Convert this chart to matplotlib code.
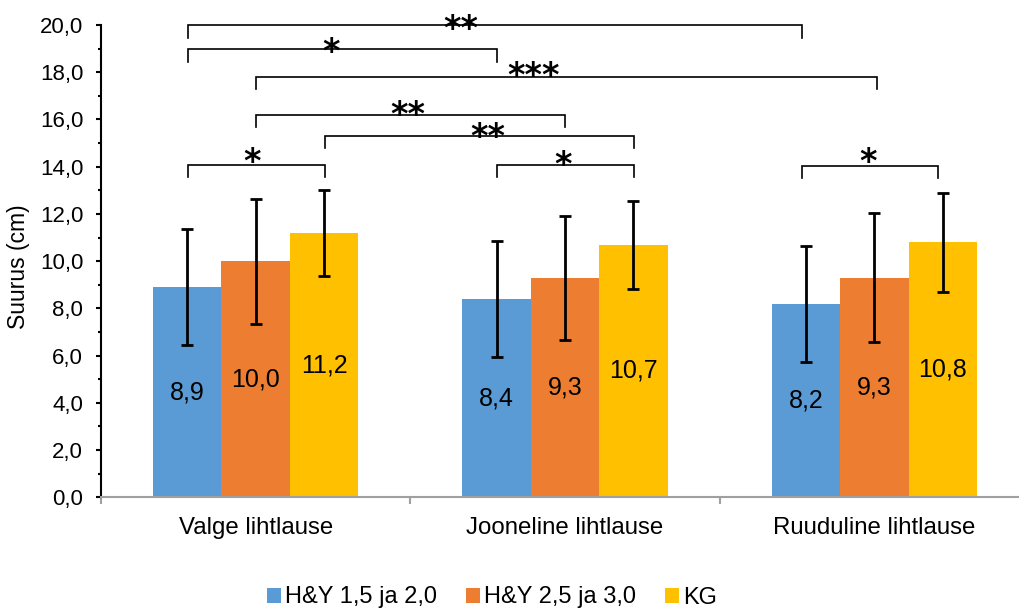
import matplotlib
matplotlib.use("Agg")
import matplotlib.pyplot as plt
from matplotlib.patches import Patch
from matplotlib.ticker import FuncFormatter, MultipleLocator, FixedLocator
import numpy as np

plt.rcParams['font.family'] = ['Liberation Sans', 'DejaVu Sans']

# ---- data ----
categories = ["Valge lihtlause", "Jooneline lihtlause", "Ruuduline lihtlause"]
series_names = ["H&Y 1,5 ja 2,0", "H&Y 2,5 ja 3,0", "KG"]
hy_low = [8.9, 8.4, 8.2]
hy_high = [10.0, 9.3, 9.3]
kg = [11.2, 10.7, 10.8]
hy_low_sd = [2.45, 2.45, 2.46]
hy_high_sd = [2.65, 2.62, 2.74]
kg_sd = [1.82, 1.86, 2.10]
colors = ["#5B9BD5", "#ED7D31", "#FFC000"]

# significance brackets: (x_left, x_right, y, label, label_x, label_y)
brackets = [
    (-0.219, 1.766, 20.00, "**", 0.664, 20.25),
    (-0.219, 0.779, 18.98, "*", 0.244, 19.27),
    (0.000, 2.008, 17.80, "***", 0.897, 18.25),
    (0.000, 1.000, 16.20, "**", 0.493, 16.58),
    (0.224, 1.223, 15.32, "**", 0.751, 15.65),
    (-0.219, 0.224, 14.08, "*", -0.012, 14.61),
    (0.779, 1.223, 14.08, "*", 0.994, 14.46),
    (1.766, 2.205, 14.05, "*", 1.980, 14.59),
]
leg_len = 0.53

W, H = 1019, 611
fig = plt.figure(figsize=(W / 100, H / 100), dpi=100)
ax = fig.add_axes([101 / W, (H - 497.3) / H, 928 / W, 472.3 / H])

values = [hy_low, hy_high, kg]
sds = [hy_low_sd, hy_high_sd, kg_sd]
x = np.arange(len(categories))
bw = 0.221
for i, (vals, sd, col, name) in enumerate(zip(values, sds, colors, series_names)):
    pos = x + (i - 1) * bw
    bars = ax.bar(pos, vals, width=bw, color=col, label=name, zorder=2,
                  yerr=sd, error_kw=dict(elinewidth=2.0, capsize=4.3, capthick=2.0,
                                         ecolor='black', zorder=3))
    ax.bar_label(bars, labels=[f"{v:.1f}".replace('.', ',') for v in vals],
                 label_type='center', fontsize=18, color='black', zorder=4)

# brackets
star_fs = 24
for xl, xr, y, lab, lx, ly in brackets:
    ax.plot([xl, xl, xr, xr], [y - leg_len, y, y, y - leg_len], color='black',
            lw=1.2, clip_on=False, zorder=5, solid_joinstyle='miter')
    ax.annotate(lab, xy=(lx, ly), xytext=(0, -0.59 * star_fs), textcoords='offset points',
                ha='center', va='baseline', fontsize=star_fs, fontweight='bold',
                family='DejaVu Sans', annotation_clip=False)

ax.set_xlim(-0.5, 2.5)
ax.set_ylim(0, 20)

for s in ['top', 'right']:
    ax.spines[s].set_visible(False)
ax.spines['left'].set_color('black')
ax.spines['left'].set_linewidth(1.5)
ax.spines['bottom'].set_color('#A0A0A0')
ax.spines['bottom'].set_linewidth(1.5)

ax.yaxis.set_major_locator(MultipleLocator(2))
ax.yaxis.set_minor_locator(MultipleLocator(1))
ax.yaxis.set_major_formatter(FuncFormatter(lambda v, p: f"{v:.1f}".replace('.', ',')))
ax.tick_params(axis='y', which='major', direction='out', length=3.8, width=1.5,
               color='black', labelsize=16, pad=9)
ax.tick_params(axis='y', which='minor', direction='out', length=2.4, width=1.5,
               color='black')

ax.xaxis.set_major_locator(FixedLocator([-0.5, 0.5, 1.5, 2.5]))
ax.xaxis.set_major_formatter(FuncFormatter(lambda v, p: ""))
ax.xaxis.set_minor_locator(FixedLocator(list(x)))
ax.set_xticks(x, categories, minor=True)
ax.tick_params(axis='x', which='major', direction='out', length=5, width=1.5,
               color='#A0A0A0')
ax.tick_params(axis='x', which='minor', length=0, labelsize=17.3, pad=14)

ax.set_ylabel("Suurus (cm)", fontsize=16.5)
ax.yaxis.set_label_coords(-0.077, 0.488)

handles = [Patch(facecolor=c, edgecolor='none') for c in colors]
fig.legend(handles, series_names, loc='center', bbox_to_anchor=(492 / W, 13.5 / H),
           ncol=3, frameon=False, fontsize=17, handlelength=0.6, handleheight=0.6,
           handletextpad=0.17, columnspacing=1.23, borderpad=0, borderaxespad=0)

fig.savefig("out.png", dpi=100)
